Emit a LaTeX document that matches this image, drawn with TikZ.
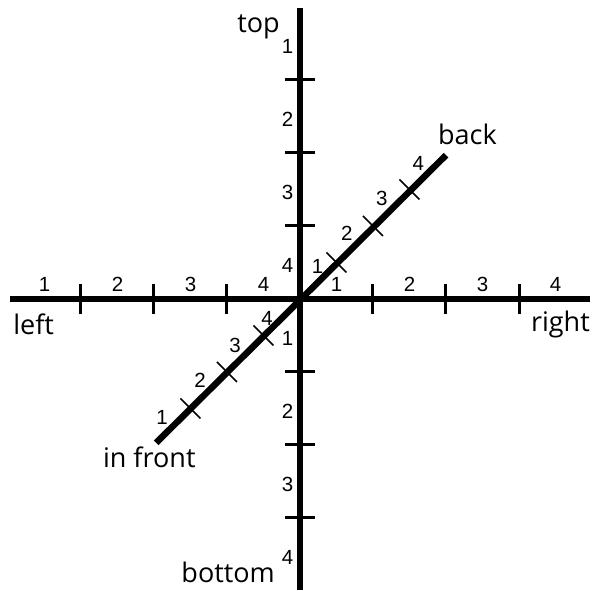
\documentclass[tikz,border=0pt]{standalone}
\usepackage{fontspec}
\setmainfont{Open Sans}
\newfontfamily\numfont{Liberation Sans}
\usetikzlibrary{positioning}

\begin{document}
\begin{tikzpicture}[
  x=73pt, y=73pt,
  axis/.style={line width=6.5pt},
  tick/.style={line width=3pt},
  dtick/.style={line width=1.6pt},
  num/.style={font=\numfont\fontsize{20.5}{24}\selectfont, inner sep=0pt},
  lbl/.style={font=\fontsize{27}{32}\selectfont, inner sep=0pt},
]
  \useasboundingbox (-300pt,-292pt) rectangle (295pt,299pt);

  % axis end points
  \coordinate (O) at (0,0);
  \coordinate (L) at (-3.97,0);
  \coordinate (R) at (3.97,0);
  \coordinate (T) at (0,3.99);
  \coordinate (B) at (0,-3.99);
  \coordinate (F) at (-1.97,-1.97);
  \coordinate (K) at (2,1.97);

  \draw[axis] (L) -- (R);
  \draw[axis] (B) -- (T);
  \draw[axis] (F) -- (K);

  % ticks
  \foreach \i in {-3,-2,-1,1,2,3} {
    \draw[tick] (\i,-0.205) -- (\i,0.205);
    \draw[tick] (-0.205,\i) -- (0.205,\i);
  }
  \foreach \t in {-1.5,-1,-0.5,0.5,1,1.5}
    \draw[dtick] (\t-0.137,\t+0.137) -- (\t+0.137,\t-0.137);

  % numbers
  \foreach \n in {1,...,4} {
    \node[num, anchor=base] (l\n) at (\n-4.5,0.1) {\n};
    \node[num, anchor=base] (r\n) at (\n-0.5,0.1) {\n};
    \node[num, anchor=east] (t\n) at (-0.09,4.5-\n-0.04) {\n};
    \node[num, anchor=east] (b\n) at (-0.09,0.5-\n-0.04) {\n};
  }
  \foreach \n/\x/\y in {1/0.24/0.45, 2/0.64/0.90, 3/1.12/1.38, 4/1.62/1.86}
    \node[num] (k\n) at (\x,\y) {\n};
  \foreach \n/\x/\y in {1/-1.89/-1.62, 2/-1.37/-1.11, 3/-0.89/-0.63, 4/-0.45/-0.27}
    \node[num] (f\n) at (\x,\y) {\n};

  % axis names
  \node[lbl, anchor=base east] (top) at (-0.274,3.644) {top};
  \node[lbl, anchor=base east] (bottom) at (-0.342,-3.877) {bottom};
  \node[lbl, anchor=base west] (left) at (-3.93,-0.493) {left};
  \node[lbl, anchor=base east] (right) at (3.973,-0.452) {right};
  \node[lbl, anchor=base west] (back) at (1.89,2.11) {back};
  \node[lbl, anchor=base west] (front) at (-2.70,-2.315) {in front};
\end{tikzpicture}
\end{document}
